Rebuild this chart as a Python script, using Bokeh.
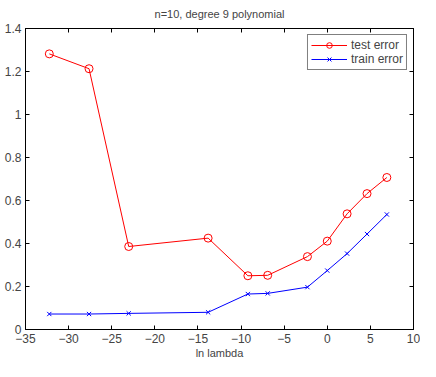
from bokeh.plotting import figure
from bokeh.models import LinearAxis, FixedTicker
from bokeh.embed import file_html
from bokeh.resources import INLINE

# data
ln_lambda = [-32.24, -27.63, -23.03, -13.82, -9.21, -6.91, -2.30, 0.0, 2.30, 4.61, 6.91]
test_error = [1.282, 1.213, 0.386, 0.425, 0.250, 0.252, 0.339, 0.411, 0.538, 0.632, 0.707]
train_error = [0.072, 0.072, 0.075, 0.080, 0.165, 0.168, 0.197, 0.274, 0.353, 0.444, 0.535]

x_ticks = [-35, -30, -25, -20, -15, -10, -5, 0, 5, 10]
x_tick_labels = ["\u221235", "\u221230", "\u221225", "\u221220", "\u221215", "\u221210", "\u22125", "0", "5", "10"]
y_ticks = [0, 0.2, 0.4, 0.6, 0.8, 1.0, 1.2, 1.4]
y_tick_labels = ["0", "0.2", "0.4", "0.6", "0.8", "1", "1.2", "1.4"]

FONT = "Liberation Sans"

p = figure(width=420, height=361, x_range=(-35, 10), y_range=(0, 1.4),
           output_backend="svg", toolbar_location=None,
           title="n=10, degree 9 polynomial",
           min_border_left=25, min_border_right=7, min_border_top=0, min_border_bottom=0,
           x_axis_label="ln lambda")
p.title.align = "center"
p.title.vertical_align = "top"
p.title.text_font = FONT
p.title.text_font_size = "11px"
p.title.text_font_style = "normal"
p.title.standoff = 14
p.xgrid.visible = False
p.ygrid.visible = False
p.outline_line_color = "black"
p.outline_line_width = 1
p.background_fill_color = "white"
p.border_fill_color = "white"

def style_axis(ax, ticks, labels, show_labels=True, standoff=3):
    ax.ticker = FixedTicker(ticks=ticks)
    if show_labels:
        ax.major_label_overrides = {t: l for t, l in zip(ticks, labels)}
    else:
        ax.major_label_overrides = {t: "" for t in ticks}
    ax.major_tick_in = 4
    ax.major_tick_out = 0
    ax.minor_tick_in = 0
    ax.minor_tick_out = 0
    ax.axis_line_color = "black"
    ax.major_tick_line_color = "black"
    ax.major_label_text_font = FONT
    ax.major_label_text_font_size = "12px"
    ax.major_label_standoff = standoff
    ax.axis_label_text_font = FONT
    ax.axis_label_text_font_size = "11px"
    ax.axis_label_text_font_style = "normal"
    ax.axis_label_standoff = 1

style_axis(p.xaxis[0], x_ticks, x_tick_labels, standoff=4)
style_axis(p.yaxis[0], y_ticks, y_tick_labels, standoff=4)
top = LinearAxis()
style_axis(top, x_ticks, x_tick_labels, show_labels=False, standoff=0)
p.add_layout(top, "above")
right = LinearAxis()
style_axis(right, y_ticks, y_tick_labels, show_labels=False, standoff=0)
p.add_layout(right, "right")

p.line(ln_lambda, test_error, line_color="#ff0000", line_width=1, legend_label="test error")
p.scatter(ln_lambda, test_error, marker="circle", size=8, fill_color=None,
          line_color="#ff0000", line_width=1, legend_label="test error")
p.line(ln_lambda, train_error, line_color="#0000ff", line_width=1, legend_label="train error")
p.scatter(ln_lambda, train_error, marker="x", size=6,
          line_color="#0000ff", line_width=1, legend_label="train error")

lg = p.legend[0]
lg.location = "top_right"
lg.margin = 6
lg.border_line_color = "black"
lg.border_line_width = 1
lg.background_fill_alpha = 1
lg.label_text_font = FONT
lg.label_text_font_size = "12px"
lg.glyph_width = 36
lg.glyph_height = 14
lg.label_height = 14
lg.spacing = 0
lg.padding = 3
lg.label_standoff = 4

open("out.html", "w").write(file_html(p, INLINE))
